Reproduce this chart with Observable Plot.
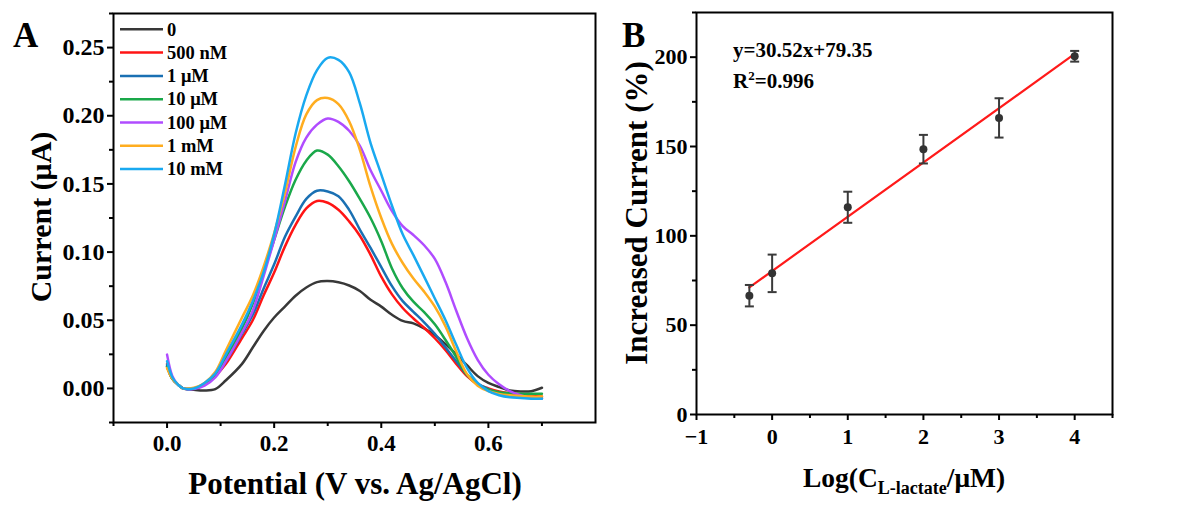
<!DOCTYPE html>
<html><head><meta charset="utf-8">
<script src="https://cdn.jsdelivr.net/npm/d3@7"></script>
<script src="https://cdn.jsdelivr.net/npm/@observablehq/plot@0.6"></script>
<style>
html,body{margin:0;padding:0;background:#fff;}
#wrap{display:flex;width:1193px;height:512px;overflow:hidden;}
#a,#b{flex:none;}
</style></head>
<body><div id="wrap"><div id="a"></div><div id="b"></div></div>
<script>
// ---------- Panel A data ----------
const potential = [0, 0.01, 0.02, 0.03, 0.05, 0.07, 0.09, 0.11, 0.14, 0.16, 0.18, 0.20, 0.22, 0.24, 0.26, 0.28, 0.30, 0.32, 0.34, 0.36, 0.38, 0.40, 0.42, 0.44, 0.46, 0.48, 0.50, 0.52, 0.54, 0.56, 0.58, 0.60, 0.62, 0.64, 0.66, 0.68, 0.70];
const seriesNames = ["0", "500 nM", "1 μM", "10 μM", "100 μM", "1 mM", "10 mM"];
const seriesColors = ["#383838", "#ff1414", "#1a70b3", "#1aa84a", "#b04cff", "#ffad1f", "#19a9f0"];
const cur0 = [0.016, 0.007, 0.003, 0.000, -0.001, -0.0015, -0.0005, 0.006, 0.018, 0.030, 0.042, 0.052, 0.060, 0.068, 0.074, 0.078, 0.0787, 0.0778, 0.0755, 0.0715, 0.065, 0.060, 0.054, 0.0495, 0.0477, 0.044, 0.039, 0.0325, 0.025, 0.017, 0.009, 0.004, 0.001, -0.0015, -0.0022, -0.002, 0.0005];
const cur500nM = [0.018, 0.007, 0.003, 0.000, 0.000, 0.003, 0.009, 0.018, 0.037, 0.050, 0.068, 0.085, 0.104, 0.120, 0.132, 0.1375, 0.1362, 0.131, 0.1225, 0.112, 0.098, 0.082, 0.069, 0.059, 0.0513, 0.0445, 0.0368, 0.028, 0.018, 0.009, 0.003, 0.000, -0.0022, -0.0035, -0.0045, -0.0055, -0.006];
const cur1uM = [0.017, 0.007, 0.003, 0.000, 0.000, 0.003, 0.009, 0.020, 0.040, 0.054, 0.073, 0.091, 0.111, 0.126, 0.139, 0.145, 0.1445, 0.141, 0.131, 0.1165, 0.103, 0.089, 0.075, 0.064, 0.0562, 0.0485, 0.040, 0.030, 0.020, 0.010, 0.0035, -0.0005, -0.004, -0.0055, -0.0065, -0.007, -0.007];
const cur10uM = [0.016, 0.007, 0.003, 0.000, 0.000, 0.003, 0.010, 0.023, 0.044, 0.062, 0.085, 0.109, 0.133, 0.153, 0.167, 0.1745, 0.1715, 0.163, 0.152, 0.139, 0.125, 0.108, 0.088, 0.0735, 0.0636, 0.056, 0.047, 0.0355, 0.023, 0.010, 0.003, -0.001, -0.0028, -0.0035, -0.004, -0.004, -0.004];
const cur100uM = [0.0248, 0.009, 0.003, 0.000, -0.0005, 0.002, 0.008, 0.020, 0.041, 0.057, 0.082, 0.109, 0.137, 0.166, 0.184, 0.1935, 0.198, 0.1955, 0.189, 0.178, 0.160, 0.145, 0.130, 0.119, 0.1125, 0.105, 0.095, 0.078, 0.057, 0.037, 0.021, 0.010, 0.003, -0.002, -0.005, -0.007, -0.0075];
const cur1mM = [0.015, 0.007, 0.003, 0.000, 0.0005, 0.004, 0.012, 0.028, 0.052, 0.068, 0.089, 0.114, 0.143, 0.177, 0.201, 0.2115, 0.2130, 0.2085, 0.196, 0.175, 0.148, 0.125, 0.106, 0.092, 0.0806, 0.071, 0.060, 0.0455, 0.027, 0.0105, 0.002, -0.002, -0.004, -0.005, -0.0055, -0.006, -0.006];
const cur10mM = [0.020, 0.008, 0.003, 0.000, 0.000, 0.004, 0.011, 0.025, 0.047, 0.064, 0.085, 0.113, 0.149, 0.187, 0.215, 0.2335, 0.2425, 0.241, 0.232, 0.209, 0.180, 0.157, 0.134, 0.113, 0.0978, 0.082, 0.066, 0.050, 0.032, 0.015, 0.004, -0.002, -0.005, -0.0065, -0.007, -0.0075, -0.0075];
const xTicksA = [0, 0.2, 0.4, 0.6];
const xMinorA = [-0.1, 0.1, 0.3, 0.5, 0.7];
const yTicksA = [0, 0.05, 0.10, 0.15, 0.20, 0.25];
const yMinorA = [-0.025, 0.025, 0.075, 0.125, 0.175, 0.225, 0.275];

// ---------- Panel B data ----------
const logConc = [-0.301, 0, 1, 2, 3, 4];
const increasedCurrent = [66.5, 79, 116, 148.5, 166, 200.5];
const errCurrent = [6, 10.5, 8.7, 8, 11, 3];
const xTicksB = [-1, 0, 1, 2, 3, 4];
const xMinorB = [-0.5, 0.5, 1.5, 2.5, 3.5, 4.5];
const yTicksB = [0, 50, 100, 150, 200];
const yMinorB = [25, 75, 125, 175, 225];

const FONT = "'Liberation Serif', 'Times New Roman', serif";

const curves = [cur0, cur500nM, cur1uM, cur10uM, cur100uM, cur1mM, cur10mM];
const rowsA = [];
seriesNames.forEach((s, i) => curves[i].forEach((v, j) => rowsA.push({V: potential[j], I: v, s})));

const plotA = Plot.plot({
  width: 600, height: 512,
  marginLeft: 113, marginRight: 5, marginTop: 13, marginBottom: 90,
  style: {fontFamily: FONT, fontWeight: "bold", fontSize: "24px", color: "#000", background: "#fff", overflow: "visible"},
  x: {domain: [-0.1, 0.8]},
  y: {domain: [-0.025, 0.275]},
  color: {domain: seriesNames, range: seriesColors},
  marks: [
    Plot.axisX(xTicksA, {tickSize: 6, tickPadding: 6, strokeWidth: 2, tickFormat: d3.format(".1f"), label: null, fontSize: 23}),
    Plot.axisX(xMinorA, {tickSize: 4, strokeWidth: 2, tickFormat: () => "", label: null}),
    Plot.axisY(yTicksA, {tickSize: 6, tickPadding: 3, strokeWidth: 2, tickFormat: d3.format(".2f"), label: null, fontSize: 24}),
    Plot.axisY(yMinorA, {tickSize: 4, strokeWidth: 2, tickFormat: () => "", label: null}),
    Plot.line(rowsA, {x: "V", y: "I", z: "s", stroke: "s", strokeWidth: 2.5, curve: "catmull-rom"}),
    Plot.frame({stroke: "#000", strokeWidth: 2})
  ]
});
document.getElementById("a").appendChild(plotA);

// Panel A annotations
{
  const svg = d3.select(plotA);
  const g = svg.append("g").attr("font-family", FONT).attr("font-weight", "bold").attr("fill", "#000").attr("text-anchor", "start");
  g.append("text").attr("x", 13).attr("y", 47).attr("font-size", 35).text("A");
  g.append("text").attr("x", 355).attr("y", 494).attr("font-size", 31).attr("text-anchor", "middle").text("Potential (V vs. Ag/AgCl)");
  g.append("text").attr("transform", "translate(51,217) rotate(-90)").attr("font-size", 30).attr("text-anchor", "middle").text("Current (μA)");
  const lg = g.append("g");
  seriesNames.forEach((s, i) => {
    const cy = 29.3 + i * 23.3;
    lg.append("line").attr("x1", 120).attr("x2", 163).attr("y1", cy).attr("y2", cy)
      .attr("stroke", seriesColors[i]).attr("stroke-width", 2.5);
    lg.append("text").attr("x", 167).attr("y", cy + 6.2).attr("font-size", 18.5).text(s);
  });
}

// ---------- Panel B ----------
const tableB = logConc.map((x, i) => ({x, y: increasedCurrent[i], lo: increasedCurrent[i] - errCurrent[i], hi: increasedCurrent[i] + errCurrent[i]}));
const capSymbol = {draw(ctx) { ctx.moveTo(-4.5, 0); ctx.lineTo(4.5, 0); }};

const plotB = Plot.plot({
  width: 593, height: 512,
  marginLeft: 96, marginRight: 81, marginTop: 12, marginBottom: 98,
  style: {fontFamily: FONT, fontWeight: "bold", fontSize: "22px", color: "#000", background: "#fff", overflow: "visible"},
  x: {domain: [-1, 4.5]},
  y: {domain: [0, 225]},
  marks: [
    Plot.axisX(xTicksB, {tickSize: 6, tickPadding: 8, strokeWidth: 2, label: null, fontSize: 22}),
    Plot.axisX(xMinorB, {tickSize: 4, strokeWidth: 2, tickFormat: () => "", label: null}),
    Plot.axisY(yTicksB, {tickSize: 6, tickPadding: 3, strokeWidth: 2, label: null, fontSize: 22}),
    Plot.axisY(yMinorB, {tickSize: 4, strokeWidth: 2, tickFormat: () => "", label: null}),
    Plot.linearRegressionY(tableB, {x: "x", y: "y", stroke: "#ff1a1a", strokeWidth: 2.2, ci: 0}),
    Plot.ruleX(tableB, {x: "x", y1: "lo", y2: "hi", stroke: "#3a3a3a", strokeWidth: 2}),
    Plot.dot(tableB, {x: "x", y: "lo", symbol: capSymbol, r: 4, fill: "none", stroke: "#3a3a3a", strokeWidth: 2}),
    Plot.dot(tableB, {x: "x", y: "hi", symbol: capSymbol, r: 4, fill: "none", stroke: "#3a3a3a", strokeWidth: 2}),
    Plot.dot(tableB, {x: "x", y: "y", r: 4, fill: "#333", stroke: "none"}),
    Plot.frame({stroke: "#000", strokeWidth: 2})
  ]
});
document.getElementById("b").appendChild(plotB);

{
  const svg = d3.select(plotB);
  const g = svg.append("g").attr("font-family", FONT).attr("font-weight", "bold").attr("fill", "#000").attr("text-anchor", "start");
  g.append("text").attr("x", 22).attr("y", 47).attr("font-size", 35).text("B");
  g.append("text").attr("x", 133).attr("y", 57).attr("font-size", 21).text("y=30.52x+79.35");
  const r2 = g.append("text").attr("x", 133).attr("y", 88).attr("font-size", 21);
  r2.append("tspan").text("R");
  r2.append("tspan").attr("font-size", 13).attr("dy", -8).text("2");
  r2.append("tspan").attr("dy", 8).text("=0.996");
  const xt = g.append("text").attr("x", 304).attr("y", 487).attr("font-size", 27.5).attr("text-anchor", "middle");
  xt.append("tspan").text("Log(C");
  xt.append("tspan").attr("font-size", 18).attr("dy", 7).text("L-lactate");
  xt.append("tspan").attr("dy", -7).text("/μM)");
  g.append("text").attr("transform", "translate(47,213) rotate(-90)").attr("font-size", 31).attr("text-anchor", "middle").text("Increased Current (%)");
}
</script>
</body></html>
